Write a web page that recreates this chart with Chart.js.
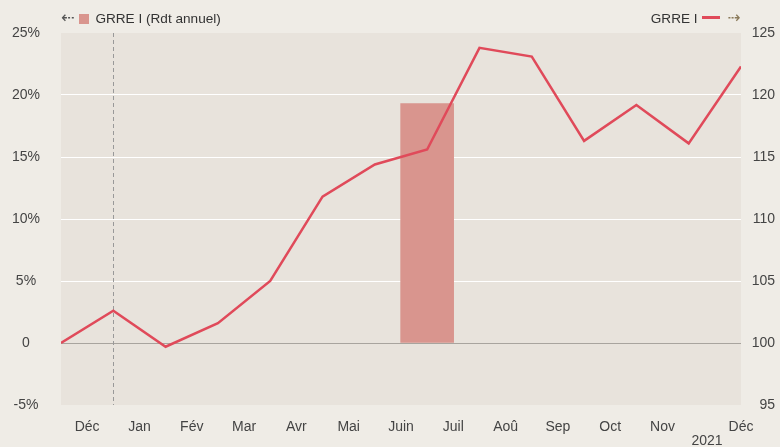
<!DOCTYPE html>
<html>
<head>
<meta charset="utf-8">
<script src="https://cdn.jsdelivr.net/npm/chart.js@4/dist/chart.umd.min.js"></script>
<style>
  body { margin: 0; background: #efece6; font-family: "Liberation Sans", Arial, sans-serif; }
  #wrap { position: relative; width: 780px; height: 447px; }
  .leg { position: absolute; top: 9px; font-size: 13.6px; color: #333; white-space: nowrap; line-height: 18px; }
  .arrow { font-family: "DejaVu Sans", sans-serif; font-size: 16px; color: #555; }
  .sq { display: inline-block; width: 10px; height: 10px; background: #d9958e; vertical-align: -1px; margin: 0 6px 0 5px; }
  .ln { display: inline-block; width: 18px; height: 3px; background: #e04a5a; vertical-align: 4px; margin: 0 8px 0 4px; }
</style>
</head>
<body>
<div id="wrap">
  <canvas id="chart"></canvas>
  <div class="leg" style="left:61px"><span class="arrow">&#8672;</span><span class="sq"></span>GRRE I (Rdt annuel)</div>
  <div class="leg" style="right:39px">GRRE I<span class="ln"></span><span class="arrow" style="color:#8a7a5a">&#8674;</span></div>
</div>
<script>
// month-end points, Dec 2020 .. Dec 2021
var lineValues = [100, 102.6, 99.7, 101.6, 105.0, 111.8, 114.4, 115.6, 123.8, 123.1, 116.3, 119.2, 116.1, 122.3];
var barPos = 7;
var barValue = 19.3;
var tickPos = [0.5, 1.5, 2.5, 3.5, 4.5, 5.5, 6.5, 7.5, 8.5, 9.5, 10.5, 11.5, 12.35, 13];
var tickLabels = ['Déc', 'Jan', 'Fév', 'Mar', 'Avr', 'Mai', 'Juin', 'Juil', 'Aoû', 'Sep', 'Oct', 'Nov', ['', '2021'], 'Déc'];
var leftTicks = [25, 20, 15, 10, 5, 0, -5];
var rightTicks = [125, 120, 115, 110, 105, 100, 95];
var yearLine = 1;

var linePoints = lineValues.map(function (v, i) { return { x: i, y: v }; });

var bgPlugin = {
  id: 'bg',
  beforeDraw: function (chart) {
    var a = chart.chartArea, ctx = chart.ctx;
    ctx.save();
    ctx.fillStyle = '#e8e3dc';
    ctx.fillRect(a.left, a.top, a.right - a.left, a.bottom - a.top);
    ctx.restore();
  },
  beforeDatasetsDraw: function (chart) {
    var a = chart.chartArea, ctx = chart.ctx;
    var x = Math.round(chart.scales.x.getPixelForValue(yearLine)) + 0.5;
    ctx.save();
    ctx.strokeStyle = '#999';
    ctx.lineWidth = 1;
    ctx.setLineDash([4, 3]);
    ctx.beginPath();
    ctx.moveTo(x, a.top);
    ctx.lineTo(x, a.bottom);
    ctx.stroke();
    ctx.restore();
  }
};

var ctx = document.getElementById('chart').getContext('2d');
var chart = new Chart(ctx, {
  data: {
    datasets: [{
      type: 'line',
      label: 'GRRE I',
      data: linePoints,
      yAxisID: 'y1',
      borderColor: '#e04a5a',
      borderWidth: 2.5,
      pointRadius: 0,
      tension: 0,
      order: 0
    }, {
      type: 'bar',
      label: 'GRRE I (Rdt annuel)',
      data: [{ x: barPos, y: barValue }],
      yAxisID: 'y',
      backgroundColor: '#d9958e',
      barThickness: 53,
      order: 1
    }]
  },
  options: {
    responsive: true,
    maintainAspectRatio: false,
    animation: false,
    layout: { padding: { top: 33, right: 5, left: 0, bottom: 0 } },
    plugins: { legend: { display: false }, tooltip: { enabled: false } },
    scales: {
      x: {
        type: 'linear',
        offset: false,
        min: 0,
        max: 13,
        grid: { display: false, offset: false },
        border: { display: false },
        afterBuildTicks: function (axis) {
          axis.ticks = tickPos.map(function (p) { return { value: p }; });
        },
        afterFit: function (axis) { axis.height = 42; },
        ticks: {
          autoSkip: false,
          maxRotation: 0,
          padding: 7,
          color: '#444',
          font: { family: 'Liberation Sans', size: 14, lineHeight: 1.0 },
          callback: function (v) { return tickLabels[tickPos.indexOf(v)]; }
        }
      },
      y: {
        position: 'left',
        min: -5,
        max: 25,
        afterBuildTicks: function (axis) {
          axis.ticks = leftTicks.map(function (p) { return { value: p }; });
        },
        afterFit: function (axis) { axis.width = 61; },
        grid: {
          drawTicks: false,
          color: function (c) {
            var v = c.tick.value;
            if (v === 0) return '#a8a49e';
            if (v === 25 || v === -5) return 'rgba(0,0,0,0)';
            return '#ffffff';
          },
          lineWidth: 1
        },
        border: { display: false },
        ticks: {
          padding: 21,
          crossAlign: 'center',
          color: '#444',
          font: { family: 'Liberation Sans', size: 14 },
          callback: function (v) { return v === 0 ? '0' : v + '%'; }
        }
      },
      y1: {
        position: 'right',
        min: 95,
        max: 125,
        afterBuildTicks: function (axis) {
          axis.ticks = rightTicks.map(function (p) { return { value: p }; });
        },
        afterFit: function (axis) { axis.width = 34; },
        grid: { display: false, drawTicks: false },
        border: { display: false },
        ticks: {
          padding: 8,
          crossAlign: 'far',
          color: '#444',
          font: { family: 'Liberation Sans', size: 14 }
        }
      }
    }
  },
  plugins: [bgPlugin]
});
</script>
</body>
</html>
